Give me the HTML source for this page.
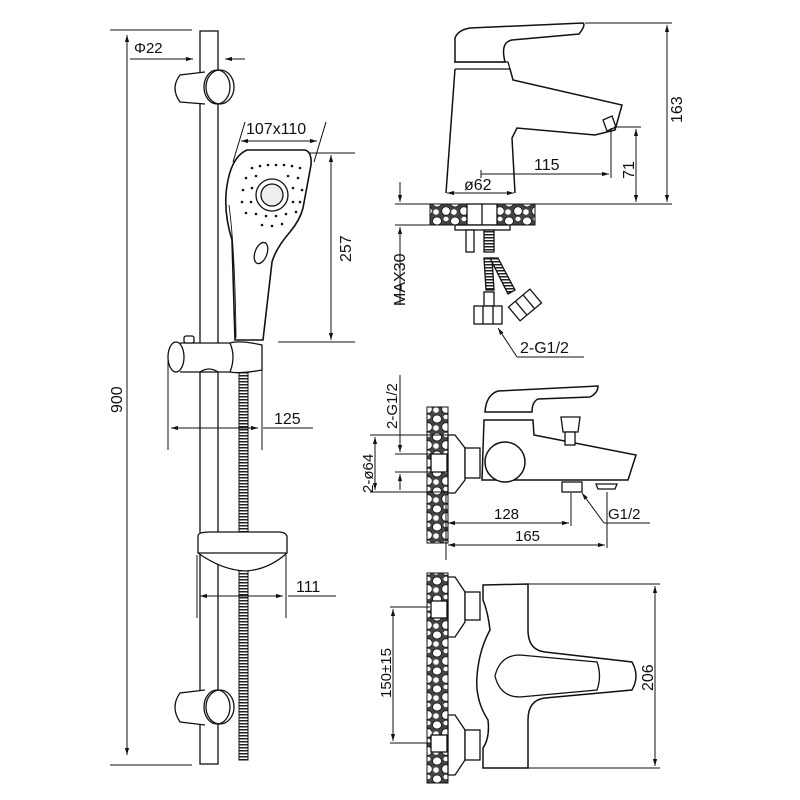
<!DOCTYPE html>
<html><head><meta charset="utf-8"><style>
html,body{margin:0;padding:0;background:#fff;}
svg{display:block;}
text{font-family:"Liberation Sans",sans-serif;fill:#111;}
</style></head><body>
<svg width="800" height="800" viewBox="0 0 800 800" xmlns="http://www.w3.org/2000/svg">
<defs>
<marker id="a" viewBox="0 0 10 10" refX="10" refY="5" markerWidth="7" markerHeight="7" orient="auto-start-reverse"><path d="M0,2 L10,5 L0,8 z" fill="#111"/></marker>
<pattern id="stone" width="18" height="18" patternUnits="userSpaceOnUse">
<rect width="18" height="18" fill="#444"/>
<ellipse cx="5" cy="5" rx="4.5" ry="4" fill="#fff" stroke="#111" stroke-width="0.8"/>
<ellipse cx="14" cy="13" rx="4.3" ry="4.3" fill="#fff" stroke="#111" stroke-width="0.8"/>
<ellipse cx="14" cy="3" rx="2.6" ry="2.2" fill="#fff"/>
<ellipse cx="4" cy="14" rx="2.8" ry="2.8" fill="#fff"/>
</pattern>
<pattern id="hose" width="9" height="3" patternUnits="userSpaceOnUse">
<rect width="9" height="3" fill="#fff"/><rect y="0" width="9" height="1.5" fill="#222"/>
</pattern>
</defs>
<g fill="none" stroke="#111" stroke-width="1.3">

<line x1="110" y1="30" x2="192" y2="30" stroke-width="1"/>
<line x1="110" y1="765" x2="192" y2="765" stroke-width="1"/>
<line x1="127" y1="35" x2="127" y2="755" stroke-width="1" marker-start="url(#a)" marker-end="url(#a)"/>
<line x1="130" y1="59" x2="193" y2="59" stroke-width="1" marker-end="url(#a)"/>
<line x1="245" y1="59" x2="225" y2="59" stroke-width="1" marker-end="url(#a)"/>
<rect x="200" y="31" width="18" height="733" fill="#fff"/>
<rect x="239" y="372" width="9" height="388" fill="url(#hose)" stroke-width="1"/>
<path d="M205,72 L180,75 Q170,88 180,102 L205,104" fill="#fff"/>
<ellipse cx="220" cy="87" rx="14" ry="17" fill="#fff"/>
<ellipse cx="217" cy="87" rx="13" ry="17" fill="none"/>
<path d="M205,690 L180,693 Q170,707 180,722 L205,725" fill="#fff"/>
<ellipse cx="220" cy="707" rx="14" ry="17" fill="#fff"/>
<ellipse cx="217" cy="707" rx="13" ry="17"/>
<path d="M247,150 L305,150 Q312,152 311,165 L303,208 Q300,220 290,232 Q276,248 272,262 L263,340 L235,340 L232,240 Q222,208 228,180 Q233,156 247,150 Z" fill="#fff" stroke-width="1.6"/>
<path d="M236,338 Q235,250 229,205" stroke-width="0.9"/>
<circle cx="272" cy="195" r="16"/>
<circle cx="272" cy="195" r="11" fill="#eee"/>
<g fill="#111" stroke="none">
<circle cx="252" cy="168" r="1.3"/><circle cx="260" cy="166" r="1.3"/><circle cx="268" cy="165" r="1.3"/><circle cx="276" cy="165" r="1.3"/><circle cx="284" cy="165" r="1.3"/><circle cx="292" cy="166" r="1.3"/><circle cx="300" cy="168" r="1.3"/>
<circle cx="246" cy="178" r="1.3"/><circle cx="256" cy="176" r="1.3"/><circle cx="288" cy="176" r="1.3"/><circle cx="298" cy="178" r="1.3"/>
<circle cx="243" cy="190" r="1.3"/><circle cx="252" cy="188" r="1.3"/><circle cx="293" cy="188" r="1.3"/><circle cx="302" cy="190" r="1.3"/>
<circle cx="242" cy="202" r="1.3"/><circle cx="251" cy="202" r="1.3"/><circle cx="293" cy="202" r="1.3"/><circle cx="300" cy="202" r="1.3"/>
<circle cx="246" cy="213" r="1.3"/><circle cx="256" cy="214" r="1.3"/><circle cx="266" cy="216" r="1.3"/><circle cx="276" cy="216" r="1.3"/><circle cx="286" cy="214" r="1.3"/><circle cx="296" cy="212" r="1.3"/>
<circle cx="262" cy="225" r="1.3"/><circle cx="272" cy="226" r="1.3"/><circle cx="282" cy="224" r="1.3"/>
</g>
<ellipse cx="261" cy="253" rx="6" ry="11" transform="rotate(20 261 253)"/>
<text x="246" y="134" font-size="16" stroke="none">107x110</text>
<line x1="241" y1="141" x2="317" y2="141" stroke-width="1" marker-start="url(#a)" marker-end="url(#a)"/>
<line x1="233" y1="162" x2="245" y2="122" stroke-width="1"/>
<line x1="314" y1="162" x2="326" y2="122" stroke-width="1"/>
<line x1="310" y1="153" x2="355" y2="153" stroke-width="1"/>
<line x1="278" y1="342" x2="355" y2="342" stroke-width="1"/>
<line x1="331" y1="155" x2="331" y2="340" stroke-width="1" marker-start="url(#a)" marker-end="url(#a)"/>
<text transform="translate(351,262) rotate(-90)" font-size="16" stroke="none">257</text>
<text transform="translate(122,413) rotate(-90)" font-size="16" stroke="none">900</text>
<text x="134" y="53" font-size="15" stroke="none">Φ22</text>
<path d="M180,343 L230,343 Q240,340 262,345 L262,370 Q240,374 230,372 L180,372" fill="#fff"/>
<ellipse cx="176" cy="357" rx="8" ry="15" fill="#fff"/>
<path d="M230,343 Q236,357 230,372"/>
<rect x="184" y="336" width="10" height="7" rx="2" fill="#fff"/>
<path d="M200,372 Q209,366 218,372" />
<line x1="168" y1="360" x2="168" y2="450" stroke-width="1"/>
<line x1="262" y1="365" x2="262" y2="450" stroke-width="1"/>
<line x1="171" y1="428" x2="258" y2="428" stroke-width="1" marker-start="url(#a)" marker-end="url(#a)"/>
<line x1="263" y1="428" x2="313" y2="428" stroke-width="1"/>
<text x="274" y="424" font-size="16" stroke="none">125</text>
<path d="M198,536 Q198,532 210,532 L280,532 Q287,533 287,537 L287,553 Q268,570 245,571 Q222,570 198,553 Z" fill="#fff"/>
<line x1="198" y1="553" x2="287" y2="553"/>
<line x1="197" y1="555" x2="197" y2="618" stroke-width="1"/>
<line x1="286" y1="555" x2="286" y2="618" stroke-width="1"/>
<line x1="200" y1="596" x2="283" y2="596" stroke-width="1" marker-start="url(#a)" marker-end="url(#a)"/>
<line x1="288" y1="596" x2="336" y2="596" stroke-width="1"/>
<text x="296" y="592" font-size="16" stroke="none">111</text>

<path d="M455,38 Q458,30 470,28 L583,23 Q586,25 579,34 L512,40 Q500,42 505,62 L455,62 Z" fill="#fff" stroke-width="1.5"/>
<path d="M454,62 L508,62 L510,69 L455,69"/>
<path d="M455,69 L446,193 M510,69 L513,80 L622,105 L615,130 L595,135 L517,128 L512,138 L515,193" stroke-width="1.5"/>
<path d="M603,120 L612,116 L616,127 L607,131 Z"/>
<rect x="430" y="204" width="105" height="21" fill="url(#stone)" stroke-width="1"/>
<rect x="467" y="204" width="30" height="21" fill="#fff"/>
<line x1="482" y1="204" x2="482" y2="225"/>
<line x1="420" y1="204" x2="672" y2="204" stroke-width="1"/>
<rect x="455" y="225" width="55" height="5" fill="#fff"/>
<rect x="466" y="230" width="8" height="22" fill="#fff"/>
<rect x="484" y="230" width="10" height="22" fill="url(#hose)"/>
<path d="M484,258 L492,258 L494,290 L486,290 Z" fill="url(#hose)"/>
<path d="M490,258 L498,258 L515,290 L508,294 Z" fill="url(#hose)"/>
<rect x="484" y="292" width="10" height="14" fill="#fff"/>
<rect x="474" y="306" width="28" height="18" fill="#fff"/>
<line x1="483" y1="306" x2="483" y2="324"/><line x1="493" y1="306" x2="493" y2="324"/>
<g transform="rotate(-40 525 305)"><rect x="511" y="296" width="28" height="18" fill="#fff"/><line x1="520" y1="296" x2="520" y2="314"/><line x1="530" y1="296" x2="530" y2="314"/></g>
<line x1="585" y1="23" x2="672" y2="23" stroke-width="1"/>
<line x1="667" y1="25" x2="667" y2="202" stroke-width="1" marker-start="url(#a)" marker-end="url(#a)"/>
<text transform="translate(682,123) rotate(-90)" font-size="16" stroke="none">163</text>
<line x1="614" y1="127" x2="641" y2="127" stroke-width="1"/>
<line x1="636" y1="129" x2="636" y2="202" stroke-width="1" marker-start="url(#a)" marker-end="url(#a)"/>
<text transform="translate(634,179) rotate(-90)" font-size="16" stroke="none">71</text>
<line x1="611" y1="128" x2="611" y2="178" stroke-width="1"/>
<line x1="481" y1="174" x2="609" y2="174" stroke-width="1" marker-end="url(#a)"/>
<line x1="481" y1="170" x2="481" y2="178" stroke-width="1"/>
<text x="534" y="170" font-size="16" stroke="none">115</text>
<line x1="447" y1="193" x2="514" y2="193" stroke-width="1" marker-start="url(#a)" marker-end="url(#a)"/>
<text x="464" y="190" font-size="16" stroke="none">ø62</text>
<line x1="395" y1="204" x2="432" y2="204" stroke-width="1"/>
<line x1="395" y1="225" x2="432" y2="225" stroke-width="1"/>
<line x1="400" y1="182" x2="400" y2="202" stroke-width="1" marker-end="url(#a)"/>
<line x1="400" y1="305" x2="400" y2="227" stroke-width="1" marker-end="url(#a)"/>
<text transform="translate(405,306) rotate(-90)" font-size="16" stroke="none">MAX30</text>
<line x1="517" y1="357" x2="498" y2="328" stroke-width="1" marker-end="url(#a)"/>
<line x1="517" y1="357" x2="584" y2="357" stroke-width="1"/>
<text x="520" y="353" font-size="16" stroke="none">2-G1/2</text>

<rect x="427" y="407" width="21" height="136" fill="url(#stone)" stroke-width="1"/>
<rect x="431" y="454" width="16" height="18" fill="#fff"/>
<path d="M448,435 L455,435 L465,448 L465,480 L455,493 L448,493 Z" fill="#fff"/>
<rect x="465" y="448" width="15" height="30" fill="#fff"/>
<path d="M484,420 L533,420 L534,435 L636,455 L628,480 L482,480 Z" fill="#fff" stroke-width="1.5"/>
<path d="M485,412 Q486,395 498,391 L598,386 Q598,393 590,397 L538,399 Q532,402 532,412 Z" fill="#fff" stroke-width="1.5"/>
<circle cx="505" cy="462" r="20" fill="#fff" stroke-width="1.5"/>
<path d="M561,417 L580,417 L578,432 L563,432 Z" fill="#fff"/>
<rect x="565" y="432" width="10" height="13" fill="#fff"/>
<rect x="562" y="482" width="20" height="10" fill="#fff"/>
<path d="M596,484 L617,484 L615,489 L598,489 Z" fill="#fff"/>
<line x1="400" y1="375" x2="400" y2="452" stroke-width="1" marker-end="url(#a)"/>
<line x1="400" y1="490" x2="400" y2="474" stroke-width="1" marker-end="url(#a)"/>
<line x1="395" y1="454" x2="440" y2="454" stroke-width="1"/>
<line x1="395" y1="472" x2="440" y2="472" stroke-width="1"/>
<text transform="translate(397,429) rotate(-90)" font-size="15" stroke="none">2-G1/2</text>
<line x1="375" y1="437" x2="375" y2="490" stroke-width="1" marker-start="url(#a)" marker-end="url(#a)"/>
<line x1="370" y1="435" x2="448" y2="435" stroke-width="1"/>
<line x1="370" y1="492" x2="448" y2="492" stroke-width="1"/>
<text transform="translate(373,493) rotate(-90)" font-size="15" stroke="none">2-ø64</text>
<line x1="446" y1="495" x2="446" y2="560" stroke-width="1"/>
<line x1="571" y1="493" x2="571" y2="526" stroke-width="1"/>
<line x1="448" y1="523" x2="569" y2="523" stroke-width="1" marker-start="url(#a)" marker-end="url(#a)"/>
<text x="494" y="519" font-size="15" stroke="none">128</text>
<line x1="607" y1="492" x2="607" y2="548" stroke-width="1"/>
<line x1="448" y1="545" x2="605" y2="545" stroke-width="1" marker-start="url(#a)" marker-end="url(#a)"/>
<text x="515" y="541" font-size="15" stroke="none">165</text>
<line x1="604" y1="523" x2="582" y2="493" stroke-width="1" marker-end="url(#a)"/>
<line x1="604" y1="523" x2="650" y2="523" stroke-width="1"/>
<text x="608" y="519" font-size="15" stroke="none">G1/2</text>

<rect x="427" y="573" width="21" height="210" fill="url(#stone)" stroke-width="1"/>
<rect x="431" y="601" width="16" height="17" fill="#fff"/>
<rect x="431" y="735" width="16" height="17" fill="#fff"/>
<path d="M448,577 L455,577 L465,592 L465,622 L455,637 L448,637 Z" fill="#fff"/>
<path d="M448,715 L455,715 L465,730 L465,760 L455,775 L448,775 Z" fill="#fff"/>
<rect x="465" y="592" width="15" height="28" fill="#fff"/>
<rect x="465" y="730" width="15" height="30" fill="#fff"/>
<path d="M483,585 L528,584 L528,630 Q528,650 545,652 L632,662 Q640,676 632,690 L545,698 Q528,700 528,720 L528,768 L483,768 L483,748 Q490,738 488,720 Q475,700 477,676 Q479,650 490,630 Q488,612 483,600 Z" fill="#fff" stroke-width="1.5"/>
<path d="M495,676 Q500,655 520,655 L597,662 Q602,676 597,690 L520,697 Q500,697 495,676 Z" fill="#fff"/>
<line x1="528" y1="584" x2="660" y2="584" stroke-width="1"/>
<line x1="528" y1="768" x2="660" y2="768" stroke-width="1"/>
<line x1="655" y1="586" x2="655" y2="766" stroke-width="1" marker-start="url(#a)" marker-end="url(#a)"/>
<text transform="translate(653,691) rotate(-90)" font-size="16" stroke="none">206</text>
<line x1="390" y1="607" x2="430" y2="607" stroke-width="1"/>
<line x1="390" y1="743" x2="430" y2="743" stroke-width="1"/>
<line x1="393" y1="609" x2="393" y2="741" stroke-width="1" marker-start="url(#a)" marker-end="url(#a)"/>
<text transform="translate(391,698) rotate(-90)" font-size="15" stroke="none">150±15</text>
</g>
</svg>
</body></html>
